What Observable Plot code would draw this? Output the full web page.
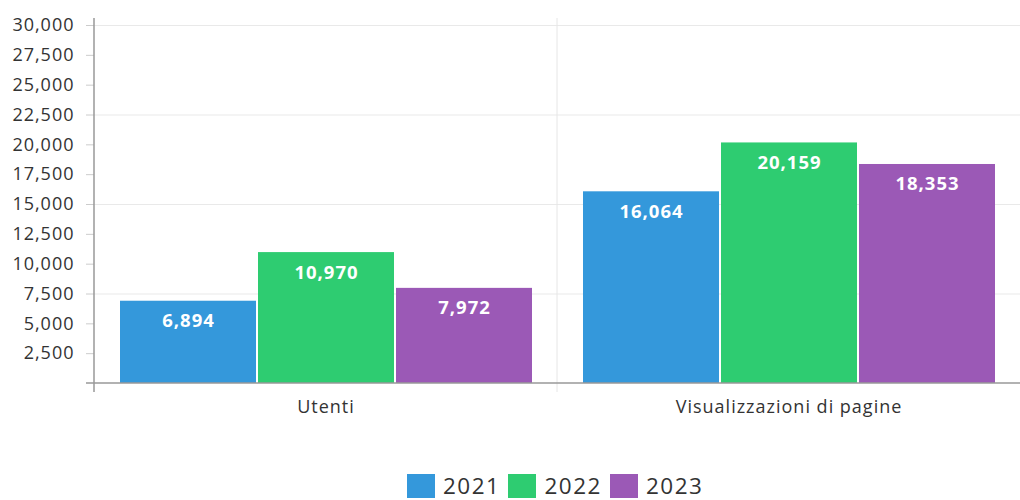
<!DOCTYPE html>
<html>
<head>
<meta charset="utf-8">
<script src="https://cdn.jsdelivr.net/npm/d3@7"></script>
<script src="https://cdn.jsdelivr.net/npm/@observablehq/plot@0.6"></script>
<style>
  html, body { margin: 0; padding: 0; background: #fff; }
  body { width: 1020px; height: 500px; overflow: hidden; font-family: "Open Sans", sans-serif; position: relative; }
  #legend { position: absolute; left: 407px; top: 474px; display: flex; align-items: center; gap: 8px; font-size: 22.5px; letter-spacing: 1.5px; color: #333; line-height: 24px; }
  #legend .item { display: flex; align-items: center; gap: 8px; }
  #legend .sw { width: 28px; height: 24px; display: inline-block; }
</style>
</head>
<body>
<div id="chart"></div>
<div id="legend"></div>
<script>
const categories = ["Utenti", "Visualizzazioni di pagine"];
const years = ["2021", "2022", "2023"];
const colors = ["#3498db", "#2ecc71", "#9b59b6"];
const values2021 = [6894, 16064];
const values2022 = [10970, 20159];
const values2023 = [7972, 18353];
const yTicks = d3.range(2500, 30001, 2500);
const gridTicks = [7500, 15000, 22500, 30000];

const series = [values2021, values2022, values2023];
const data = [];
categories.forEach((c, i) => years.forEach((y, j) => data.push({category: c, year: y, value: series[j][i]})));
const fmt = d3.format(",");

const chart = Plot.plot({
  width: 1020,
  height: 440,
  marginLeft: 93,
  marginRight: 0,
  marginTop: 25,
  marginBottom: 57,
  style: { fontFamily: "Open Sans, sans-serif", fontSize: "18px", letterSpacing: "1px", color: "#333", background: "#fff" },
  fx: { domain: categories, padding: 0, label: null },
  x: { domain: years, paddingInner: 0.015, paddingOuter: 0.18, axis: null },
  y: { domain: [0, 30000], label: null },
  color: { domain: years, range: colors },
  marks: [
    Plot.gridY(gridTicks, { stroke: "#e9e9e9", strokeOpacity: 1 }),
    Plot.barY(data, { fx: "category", x: "year", y: "value", fill: "year" }),
    Plot.text(data, { fx: "category", x: "year", y: "value", text: d => fmt(d.value), fill: "white", fontWeight: "bold", fontSize: 18.5, dy: 20, lineAnchor: "middle" }),
    Plot.axisY(yTicks, { tickSize: 8, tickPadding: 12, tickFormat: d => fmt(d), fontSize: 18, stroke: "#ccc", label: null }),
    Plot.axisFx({ anchor: "bottom", tickSize: 0, tickPadding: 17, fontSize: 18, label: null })
  ]
});
document.getElementById("chart").appendChild(chart);

// axis lines and category separators derived from the scales
const fx = chart.scale("fx");
const y = chart.scale("y");
const svg = d3.select(chart);
const y0 = y.apply(0);
const yTop = y.apply(30000) - 7;
const boundaries = [fx.apply(categories[0]), fx.apply(categories[1])];
const g = svg.append("g");
boundaries.forEach((bx, i) => {
  g.append("line").attr("x1", bx).attr("x2", bx).attr("y1", yTop).attr("y2", y0 + 9)
    .attr("stroke", i === 0 ? "#999" : "#e6e6e6").attr("stroke-width", i === 0 ? 1.5 : 1);
});
g.append("line").attr("x1", boundaries[0] - 8).attr("x2", 1020).attr("y1", y0).attr("y2", y0)
  .attr("stroke", "#999").attr("stroke-width", 1.5);

const legend = document.getElementById("legend");
years.forEach((yr, i) => {
  const it = document.createElement("div");
  it.className = "item";
  it.innerHTML = `<span class="sw" style="background:${colors[i]}"></span><span>${yr}</span>`;
  legend.appendChild(it);
});
</script>
</body>
</html>
